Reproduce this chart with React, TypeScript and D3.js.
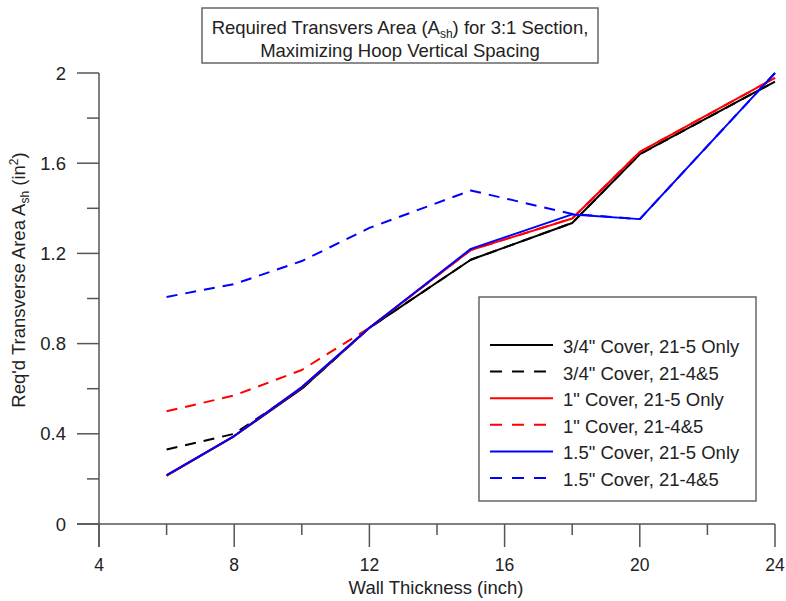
import React from "react";
import * as d3 from "d3";

const xs = [6, 8, 10, 12, 15, 18, 20, 24];
const black34Only = [0.215, 0.39, 0.6, 0.87, 1.172, 1.335, 1.64, 1.962];
const black34Both = [0.33, 0.4, 0.6, 0.87, 1.172, 1.335, 1.64, 1.962];
const red1Only = [0.215, 0.39, 0.605, 0.87, 1.215, 1.355, 1.65, 1.978];
const red1Both = [0.5, 0.57, 0.683, 0.87, 1.215, 1.355, 1.65, 1.978];
const blue15Only = [0.217, 0.39, 0.607, 0.87, 1.22, 1.373, 1.352, 2.0];
const blue15Both = [1.007, 1.064, 1.166, 1.313, 1.479, 1.375, 1.352, 2.0];

const xMajorTicks = [4, 8, 12, 16, 20, 24];
const xMinorTicks = [6, 10, 14, 18, 22];
const yMajorTicks = [0, 0.4, 0.8, 1.2, 1.6, 2];
const yMinorTicks = [0.2, 0.6, 1.0, 1.4, 1.8];

const seriesNames = [
  '3/4" Cover, 21-5 Only',
  '3/4" Cover, 21-4&5',
  '1" Cover, 21-5 Only',
  '1" Cover, 21-4&5',
  '1.5" Cover, 21-5 Only',
  '1.5" Cover, 21-4&5',
];
const seriesValues = [black34Only, black34Both, red1Only, red1Both, blue15Only, blue15Both];
const seriesColors = ["#000000", "#000000", "#ff0000", "#ff0000", "#0000ff", "#0000ff"];
const seriesDashed = [false, true, false, true, false, true];

const W = 786;
const H = 601;
const FONT = "'Liberation Sans', Arial, sans-serif";
const AXIS = "#555";
const FS = 18.5;
const TXT = "#222";

export default function App() {
  const x = d3.scaleLinear().domain([4, 24]).range([99, 775]);
  const y = d3.scaleLinear().domain([0, 2]).range([524, 73]);
  const line = d3
    .line<[number, number]>()
    .x((d) => x(d[0]))
    .y((d) => y(d[1]));

  const drawOrder = [0, 1, 2, 3, 4, 5];

  return (
    <svg
      width={W}
      height={H}
      style={{ position: "absolute", left: 0, top: 0, background: "#fff" }}
      fontFamily={FONT}
    >
      <rect x={0} y={0} width={W} height={H} fill="#fff" />
      {/* Title box */}
      <rect x={202} y={8} width={396} height={55} fill="#fff" stroke="#666" strokeWidth={1.5} />
      <text x={400} y={34} textAnchor="middle" fontSize={FS} fill={TXT}>
        Required Transvers Area (A
        <tspan fontSize={12} dy={4}>sh</tspan>
        <tspan dy={-4}>) for 3:1 Section,</tspan>
      </text>
      <text x={400} y={57} textAnchor="middle" fontSize={FS} fill={TXT}>
        Maximizing Hoop Vertical Spacing
      </text>

      {/* Axes */}
      <line x1={77} x2={x(24)} y1={y(0)} y2={y(0)} stroke={AXIS} strokeWidth={1.5} />
      <line x1={x(4)} x2={x(4)} y1={y(2)} y2={547} stroke={AXIS} strokeWidth={1.5} />
      {xMajorTicks.map((t) => (
        <g key={"xm" + t}>
          <line x1={x(t)} x2={x(t)} y1={y(0)} y2={547} stroke={AXIS} strokeWidth={1.5} />
          <text x={x(t)} y={571} textAnchor="middle" fontSize={17.5} fill={TXT}>
            {t}
          </text>
        </g>
      ))}
      {xMinorTicks.map((t) => (
        <line key={"xn" + t} x1={x(t)} x2={x(t)} y1={y(0)} y2={535} stroke={AXIS} strokeWidth={1.5} />
      ))}
      {yMajorTicks.map((t) => (
        <g key={"ym" + t}>
          <line x1={77} x2={x(4)} y1={y(t)} y2={y(t)} stroke={AXIS} strokeWidth={1.5} />
          <text x={66} y={y(t) + 6.5} textAnchor="end" fontSize={FS} fill={TXT}>
            {t === 0 || t === 2 ? String(t) : t.toFixed(1)}
          </text>
        </g>
      ))}
      {yMinorTicks.map((t) => (
        <line key={"yn" + t} x1={87} x2={x(4)} y1={y(t)} y2={y(t)} stroke={AXIS} strokeWidth={1.5} />
      ))}
      <text x={436} y={594} textAnchor="middle" fontSize={FS} fill={TXT}>
        Wall Thickness (inch)
      </text>
      <text
        transform={`translate(25,${280}) rotate(-90)`}
        textAnchor="middle"
        fontSize={FS}
        fill={TXT}
      >
        Req'd Transverse Area A
        <tspan fontSize={12} dy={4}>sh</tspan>
        <tspan dy={-4}> (in</tspan>
        <tspan fontSize={12} dy={-7}>2</tspan>
        <tspan dy={7}>)</tspan>
      </text>

      {/* Series */}
      {drawOrder.map((i) => (
        <path
          key={"s" + i}
          d={line(xs.map((v, k) => [v, seriesValues[i][k]] as [number, number])) || ""}
          fill="none"
          stroke={seriesColors[i]}
          strokeWidth={2}
          strokeDasharray={seriesDashed[i] ? "11,8" : undefined}
          strokeLinejoin="round"
        />
      ))}

      {/* Legend */}
      <rect x={479} y={297} width={277} height={204} fill="#fff" stroke="#666" strokeWidth={1.5} />
      {seriesNames.map((name, i) => {
        const ly = 345 + i * 26.6;
        return (
          <g key={"l" + i}>
            <line
              x1={490}
              x2={553}
              y1={ly}
              y2={ly}
              stroke={seriesColors[i]}
              strokeWidth={2}
              strokeDasharray={seriesDashed[i] ? "12,10" : undefined}
            />
            <text x={563} y={ly + 8} fontSize={FS} fill={TXT}>
              {name}
            </text>
          </g>
        );
      })}
    </svg>
  );
}
